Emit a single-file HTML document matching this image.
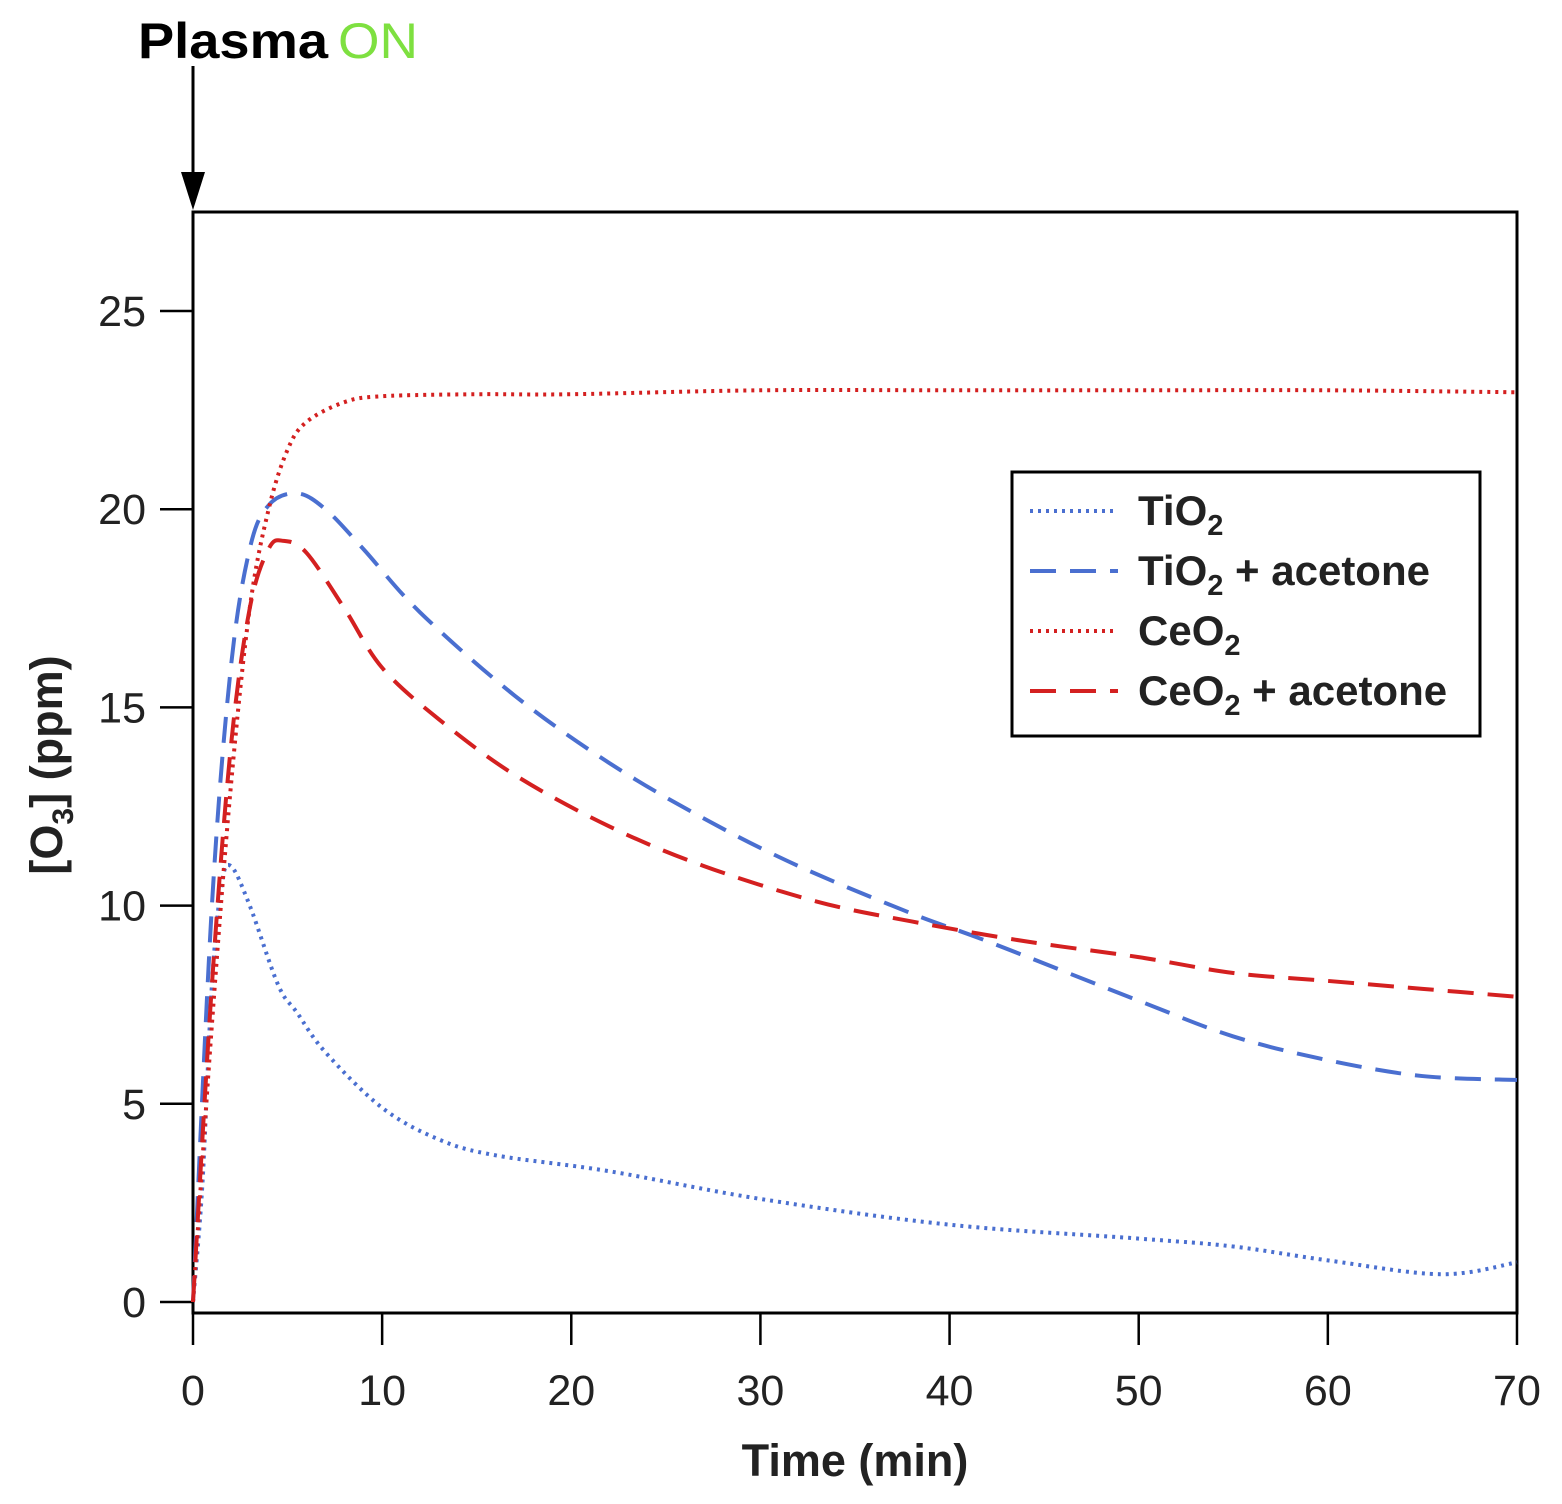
<!DOCTYPE html>
<html><head><meta charset="utf-8"><style>
html,body{margin:0;padding:0;background:#fff}
svg{display:block;font-family:"Liberation Sans",Arial,sans-serif}
</style></head><body>
<svg id="s" width="1562" height="1504" viewBox="0 0 1562 1504" xmlns="http://www.w3.org/2000/svg">
<rect width="1562" height="1504" fill="#fff"/>
<text x="138" y="58" font-size="50" font-weight="bold" fill="#000" textLength="190" lengthAdjust="spacingAndGlyphs">Plasma</text>
<text x="338" y="58" font-size="50" fill="#7ee040" textLength="80" lengthAdjust="spacingAndGlyphs">ON</text>
<line x1="193" y1="66" x2="193" y2="185" stroke="#000" stroke-width="3"/>
<polygon points="181,172 205,172 193,210" fill="#000"/>
<rect x="193" y="212" width="1324" height="1101" fill="none" stroke="#000" stroke-width="3"/>
<g id="ticks" stroke="#000" stroke-width="2.5"></g>
<g id="lbl" font-size="43" fill="#222"></g>
<g id="curves" fill="none"></g>
<text x="855" y="1476" font-size="45" font-weight="bold" text-anchor="middle" fill="#222">Time (min)</text>
<text transform="translate(62,765) rotate(-90)" font-size="45" font-weight="bold" text-anchor="middle" fill="#222">[O<tspan font-size="30" dy="11">3</tspan><tspan dy="-11">] (ppm)</tspan></text>
<rect x="1012" y="472" width="468" height="264" fill="#fff" stroke="#000" stroke-width="3"/>
<g stroke-width="4">
<line x1="1030" y1="511" x2="1118" y2="511" stroke="#4a6fd0" stroke-dasharray="3,5"/>
<line x1="1030" y1="571" x2="1118" y2="571" stroke="#4a6fd0" stroke-dasharray="26,14"/>
<line x1="1030" y1="631" x2="1118" y2="631" stroke="#d42020" stroke-dasharray="3,5"/>
<line x1="1030" y1="691" x2="1118" y2="691" stroke="#d42020" stroke-dasharray="26,14"/>
</g>
<g font-size="42" font-weight="bold" fill="#222">
<text x="1138" y="525">TiO<tspan font-size="29" dy="10">2</tspan></text>
<text x="1138" y="585">TiO<tspan font-size="29" dy="10">2</tspan><tspan dy="-10"> + acetone</tspan></text>
<text x="1138" y="645">CeO<tspan font-size="29" dy="10">2</tspan></text>
<text x="1138" y="705">CeO<tspan font-size="29" dy="10">2</tspan><tspan dy="-10"> + acetone</tspan></text>
</g>
</svg>
<script>
var X=function(t){return 193+t*18.914},Y=function(v){return 1302-v*39.64};
var ns="http://www.w3.org/2000/svg",tk=document.getElementById("ticks"),lb=document.getElementById("lbl"),cv=document.getElementById("curves");
function el(p,n,a,t){var e=document.createElementNS(ns,n);for(var k in a)e.setAttribute(k,a[k]);if(t!=null)e.textContent=t;p.appendChild(e);}
for(var i=0;i<=25;i+=5){el(tk,"line",{x1:160,x2:193,y1:Y(i),y2:Y(i)});el(lb,"text",{x:146,y:Y(i)+15,"text-anchor":"end"},i);}
for(var i=0;i<=70;i+=10){el(tk,"line",{x1:X(i),x2:X(i),y1:1313,y2:1345});el(lb,"text",{x:X(i),y:1405,"text-anchor":"middle"},i);}
function path(pts){var p=pts.map(function(q){return[X(q[0]),Y(q[1])]});var d="M"+p[0][0]+","+p[0][1];
for(var i=0;i<p.length-1;i++){var p0=p[i-1]||p[i],p1=p[i],p2=p[i+1],p3=p[i+2]||p2;
d+=" C"+(p1[0]+(p2[0]-p0[0])/6)+","+(p1[1]+(p2[1]-p0[1])/6)+" "+(p2[0]-(p3[0]-p1[0])/6)+","+(p2[1]-(p3[1]-p1[1])/6)+" "+p2[0]+","+p2[1];}return d;}
var S=[
[[[0,0],[0.5,3],[1,8],[1.5,10.5],[2,11],[3,10],[4.5,8],[5.5,7.3],[7,6.3],[10,4.9],[13,4.1],[16,3.7],[22,3.3],[30,2.6],[40,1.95],[50,1.6],[55,1.4],[60,1.05],[66,0.7],[70,1.0]],"#4a6fd0","3,5"],
[[[0,0],[1,10],[2,16],[3,19],[4,20.1],[5.5,20.4],[7,20],[9,19],[12,17.4],[17,15.3],[22,13.6],[27,12.2],[32,11],[38,9.8],[42,9.1],[50,7.6],[55,6.7],[60,6.1],[65,5.7],[70,5.6]],"#4a6fd0","26,14"],
[[[0,0],[1,7],[2,13],[3,17.5],[4,20],[5,21.5],[6,22.2],[8,22.7],[10,22.85],[15,22.9],[20,22.9],[30,23],[40,23],[50,23],[60,23],[70,22.95]],"#d42020","3,5"],
[[[0,0],[1,8],[2,14],[3,17.5],[4,19],[4.8,19.2],[6,18.9],[8,17.5],[10,16],[13,14.7],[17,13.3],[22,12],[27,11],[33,10.1],[38,9.6],[44,9.1],[50,8.7],[55,8.3],[60,8.1],[65,7.9],[70,7.7]],"#d42020","26,14"]];
S.forEach(function(s){el(cv,"path",{d:path(s[0]),stroke:s[1],"stroke-width":4,"stroke-dasharray":s[2]});});
</script>
</body></html>
